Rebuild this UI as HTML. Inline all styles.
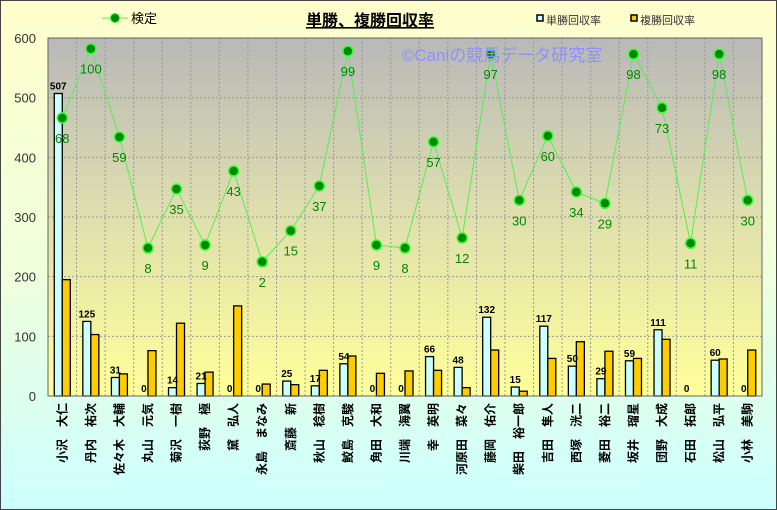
<!DOCTYPE html>
<html><head><meta charset="utf-8"><style>
body{margin:0;width:777px;height:510px;overflow:hidden}
svg{display:block}
text{font-family:"Liberation Sans","Noto Sans CJK JP",sans-serif}
</style></head><body>
<svg width="777" height="510" xmlns="http://www.w3.org/2000/svg">
<defs>
<linearGradient id="bg" x1="0" y1="0" x2="0" y2="1"><stop offset="0" stop-color="#ffffcc"/><stop offset="0.55" stop-color="#eeffdd"/><stop offset="1" stop-color="#ccffff"/></linearGradient>
<linearGradient id="pa" x1="0" y1="0" x2="0" y2="1"><stop offset="0" stop-color="#b8b8b8"/><stop offset="0.45" stop-color="#dcdcb0"/><stop offset="1" stop-color="#ffff99"/></linearGradient>
</defs>
<rect x="0.5" y="0.5" width="776" height="509" fill="url(#bg)" stroke="#444"/>
<rect x="48" y="38" width="714" height="358" fill="url(#pa)" stroke="#777"/>
<g id="g"></g>
<text x="370" y="26" font-size="16" font-weight="bold" text-anchor="middle" text-decoration="underline">単勝、複勝回収率</text>
<text x="502" y="61" font-size="17" fill="#8f8fff" text-anchor="middle">©Caniの競馬データ研究室</text>
<line x1="102" y1="18" x2="128" y2="18" stroke="#55ee55"/><circle cx="115" cy="18" r="4.5" fill="#008800" stroke="#33ff33"/>
<text x="131" y="23" font-size="13">検定</text>
<rect x="537" y="15" width="6" height="6" fill="#ccffff" stroke="#000" stroke-width="1.5"/><text x="546" y="24" font-size="11" fill="#333">単勝回収率</text>
<rect x="631" y="15" width="6" height="6" fill="#ffcc00" stroke="#000" stroke-width="1.5"/><text x="640" y="24" font-size="11" fill="#333">複勝回収率</text>
</svg>
<script>
const d=[["小沢　大仁",507,195,466,68],["丹内　祐次",125,103,582,100],["佐々木　大輔",31,37,434,59],["丸山　元気",0,76,248,8],["菊沢　一樹",14,122,347,35],["荻野　極",21,40,253,9],["黛　弘人",0,151,377,43],["永島　まなみ",0,20,225,2],["斎藤　新",25,19,277,15],["秋山　稔樹",17,43,352,37],["鮫島　克駿",54,67,578,99],["角田　大和",0,38,253,9],["川端　海翼",0,42,248,8],["幸　英明",66,43,426,57],["河原田　菜々",48,14,265,12],["藤岡　佑介",132,77,573,97],["柴田　裕一郎",15,8,328,30],["吉田　隼人",117,63,436,60],["西塚　洸二",50,91,342,34],["菱田　裕二",29,75,323,29],["坂井　瑠星",59,63,573,98],["団野　大成",111,95,483,73],["石田　拓郎",0,0,256,11],["松山　弘平",60,62,573,98],["小林　美駒",0,77,328,30]];
const Y=v=>396-v*358/600,W=714/25;let s="";
for(let v=0;v<=600;v+=100){const y=Y(v);if(v>0&&v<600)s+=`<line x1="48" x2="762" y1="${y}" y2="${y}" stroke="#999" stroke-dasharray="2,2"/>`;s+=`<text x="36" y="${y+5}" font-size="13" text-anchor="end" fill="#333">${v}</text>`;}
for(let i=1;i<25;i++){const x=48+W*i;s+=`<line x1="${x}" x2="${x}" y1="38" y2="396" stroke="#999" stroke-dasharray="2,2"/>`;}
let pts=[];
d.forEach((r,i)=>{const c=48+W*(i+.5);
s+=`<rect x="${c-8}" y="${Y(r[1])}" width="8" height="${396-Y(r[1])}" fill="#ccffff" stroke="#000" stroke-width="1.3"/>`;
s+=`<rect x="${c}" y="${Y(r[2])}" width="8" height="${396-Y(r[2])}" fill="#ffcc00" stroke="#000" stroke-width="1.3"/>`;
s+=`<text x="${c-4}" y="${Y(r[1])-4}" font-size="10" font-weight="bold" text-anchor="middle">${r[1]}</text>`;
s+=`<text transform="translate(${c+4},403) rotate(-90)" font-size="12" font-weight="bold" text-anchor="end">${r[0]}</text>`;
pts.push(c+","+Y(r[3]));});
s+=`<polyline points="${pts.join(" ")}" fill="none" stroke="#55ee55" stroke-width="1"/>`;
d.forEach((r,i)=>{const c=48+W*(i+.5),y=Y(r[3]);s+=`<circle cx="${c}" cy="${y}" r="5" fill="#008800" stroke="#33ff33" stroke-width="1.5"/><text x="${c}" y="${y+25}" font-size="13" fill="#008800" text-anchor="middle">${r[4]}</text>`;});
s+=`<rect x="48" y="38" width="714" height="358" fill="none" stroke="#666"/>`;
document.getElementById("g").innerHTML=s;
</script>
</body></html>
